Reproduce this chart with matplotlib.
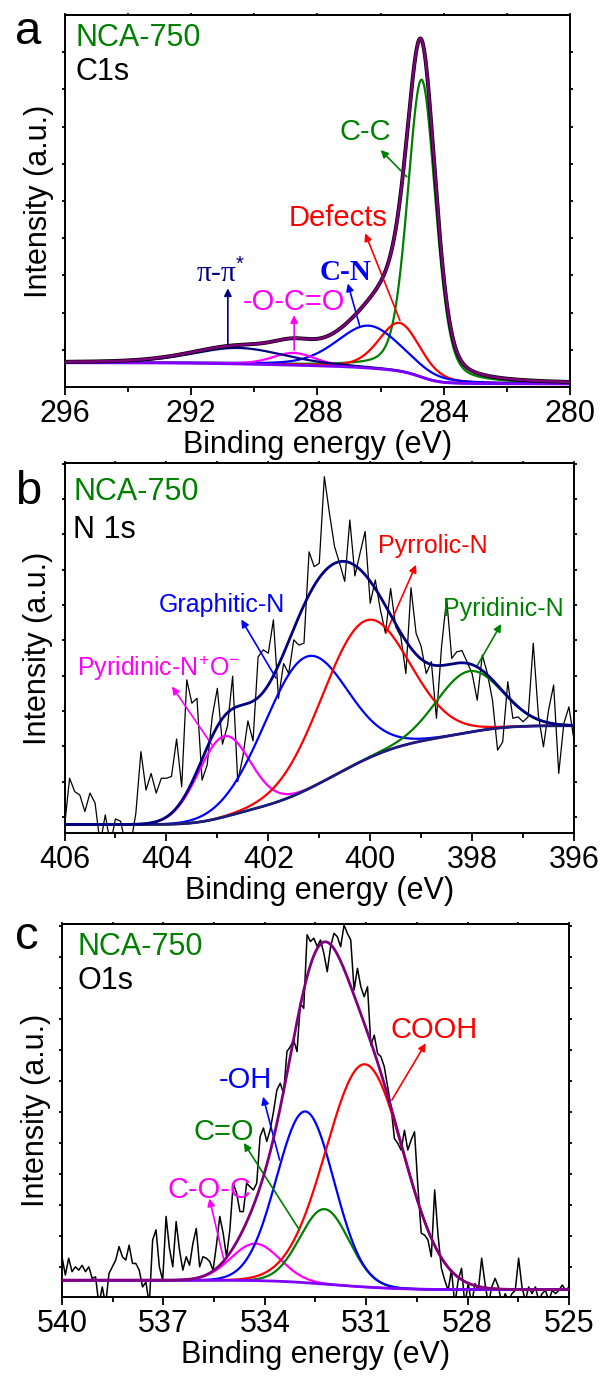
import numpy as np
import matplotlib
matplotlib.use('Agg')
import matplotlib.pyplot as plt
from matplotlib.ticker import MultipleLocator, FixedLocator, NullFormatter

plt.rcParams['font.family'] = ['Liberation Sans', 'DejaVu Sans']
plt.rcParams['mathtext.fontset'] = 'custom'
plt.rcParams['mathtext.rm'] = 'Liberation Sans'
plt.rcParams['mathtext.it'] = 'Liberation Sans:italic'
plt.rcParams['mathtext.bf'] = 'Liberation Sans:bold'

# ---- C1s fit: peak centre (eV), height, fwhm (eV) ----
c1s_names = ['C-C', 'Defects', 'C-N', '-O-C=O', 'π-π*']
c1s_centers = [284.7, 285.4, 286.37, 288.75, 290.5]
c1s_heights = [80.0, 13.0, 11.4, 3.3, 4.3]
c1s_fwhm = [1.05, 1.55, 2.4, 1.6, 3.5]
c1s_bg = [6.5, 0.8]          # background at high-BE end, low-BE end

# ---- N1s fit ----
n1s_names = ['Pyridinic-N$^{+}$O$^{-}$', 'Graphitic-N', 'Pyrrolic-N', 'Pyridinic-N']
n1s_centers = [402.87, 401.28, 400.11, 398.06]
n1s_heights = [21.8, 36.0, 37.5, 16.5]
n1s_fwhm = [1.2, 1.9, 2.0, 1.5]
n1s_bg = [2.3, 29.0]

# raw N1s counts, 406 -> 396 eV
n1s_raw = [1.7, 14.8, 11.2, 10.3, 5.8, 10.8, 8.1, -3, 4.9, -3,
           3.8, 3.2, -3, -3, 5.3, 22.0, 11.6, 16.1, 10.8, 14.8,
           14.8, 15.3, 25.4, 12.5, 41.4, 35.1, 36.4, 14.3, 18.4, 31.5,
           39.1, 24.0, 29.0, 42.4, 13.9, 20.6, 30.3, 24.9, 47.6, 49.5,
           48.6, 57.6, 36.4, 45.8, 43.1, 52.2, 50.8, 51.3, 76.0, 72.0,
           72.9, 96.3, 86.4, 77.4, 72.9, 68.0, 84.6, 69.5, 75.6, 81.5,
           62.1, 68.4, 60.3, 54.0, 66.1, 55.8, 53.1, 43.1, 66.3, 54.0,
           50.4, 43.1, 46.3, 31.0, 50.4, 63.4, 47.2, 49.0, 49.3, 46.3,
           43.1, 35.9, 48.1, 43.1, 35.9, 22.4, 24.6, 40.9, 31.0, 31.4,
           30.1, 31.4, 51.3, 31.9, 23.3, 33.2, 40.0, 16.1, 29.6, 34.1,
           25.1]

# ---- O1s fit ----
o1s_names = ['C-O-C', 'C=O', '-OH', 'COOH']
o1s_centers = [534.28, 532.23, 532.8, 531.04]
o1s_heights = [9.9, 20.1, 45.9, 59.7]
o1s_fwhm = [1.7, 1.7, 2.0, 2.7]
o1s_bg = [4.5, 2.0]

# raw O1s counts, 540 -> 525 eV
o1s_raw = [10.8, 5.9, 10.4, 6.8, 8.1, 7.2, 8.5, 6.8, 8.1, 5.0,
           5.4, -2, 2.7, -2, 6.3, 8.1, 9.9, 13.5, 10.8, 9.9,
           13.9, 9.0, 9.0, 7.2, 2.7, 4.0, -2, 15.3, 18.0, 8.1,
           4.5, 21.6, 13.1, 8.1, 20.2, 12.6, 7.2, 10.8, 8.5, 14.4,
           18.4, 8.1, 10.8, 10.4, 9.5, 7.2, 13.9, 21.6, 17.1, 10.8,
           18.0, 30.5, 27.9, 22.9, 22.9, 30.5, 29.6, 28.7, 30.5, 43.0,
           45.3, 41.7, 44.8, 49.7, 55.5, 57.3, 54.6, 65.8, 67.1, 68.9,
           65.8, 78.7, 77.4, 97.1, 95.3, 96.2, 94.0,
           95.7, 92.1, 87.2, 93.9, 97.5, 96.6, 93.9, 99.7, 97.5, 95.7,
           82.3, 88.1, 83.2, 80.5, 83.2, 67.5, 70.2, 65.3, 64.4, 61.7,
           56.4, 51.0, 42.5, 41.2, 39.4, 44.7, 39.4, 42.1, 44.3, 29.6,
           17.1, 16.6, 15.3, 10.8, 28.7, 16.6, 7.7, 4.5, 1.8, 7.2,
           -2, 4.5, 7.7, -2, 3.6, -2, 3.6, 1.8, 10.4, 3.6,
           -2, 2.7, 5.0, 2.7, -2, 0.9, -1, 0.9, 1.8, 10.4,
           2.7, -1, 2.7, 0.9, 2.7, -1, 0.9, 1.8, -1, 1.8,
           0.9, 1.8, 3.2, 1.8, 2.7]


def peak(x, c, h, w, eta):
    g = np.exp(-4 * np.log(2) * (x - c) ** 2 / w ** 2)
    l = 1.0 / (1 + 4 * (x - c) ** 2 / w ** 2)
    return h * ((1 - eta) * g + eta * l)


def shirley(total, b_hi, b_lo):
    # x runs from high to low binding energy
    area = np.cumsum(total)
    return b_hi + (b_lo - b_hi) * area / area[-1]


def style_axes(ax, xlim, major, minor, yticks):
    ax.set_xlim(*xlim)
    ax.set_ylim(0, 100)
    ax.xaxis.set_major_locator(MultipleLocator(major))
    ax.xaxis.set_minor_locator(MultipleLocator(minor))
    ax.yaxis.set_major_locator(FixedLocator(yticks))
    ax.yaxis.set_major_formatter(NullFormatter())
    ax.tick_params(axis='x', which='both', direction='out', bottom=True,
                   top=False, width=1.3, labelsize=22, pad=2.5)
    ax.tick_params(axis='x', which='major', length=6)
    ax.tick_params(axis='x', which='minor', length=3.5)
    ax.tick_params(axis='y', which='major', direction='out', left=True,
                   right=True, length=2.5, width=1.3)
    top = ax.secondary_xaxis('top')
    top.xaxis.set_major_locator(MultipleLocator(major))
    top.xaxis.set_minor_locator(MultipleLocator(minor))
    top.tick_params(which='both', direction='out', length=1.8, width=1.2,
                    labeltop=False)
    top.spines['top'].set_linewidth(1.4)
    for s in ax.spines.values():
        s.set_linewidth(1.4)
    ax.set_xlabel('Binding energy (eV)', fontsize=22, labelpad=1)
    ax.set_ylabel('Intensity (a.u.)', fontsize=22, labelpad=2)


def draw_fit(ax, xlim, centers, heights, fwhm, bg_ends, colors, eta, bg_color):
    x = np.linspace(xlim[0], xlim[1], 1500)
    comps = [peak(x, c, h, w, eta) for c, h, w in zip(centers, heights, fwhm)]
    total = np.sum(comps, axis=0)
    bg = shirley(total, bg_ends[0], bg_ends[1])
    for comp, col in zip(comps, colors):
        ax.plot(x, bg + comp, color=col, lw=1.6)
    ax.plot(x, bg, color=bg_color, lw=2.0)
    return x, bg + total


def label(ax, text, color, text_xy, tail, head, size=21, **kw):
    ax.annotate('', xy=head, xytext=tail,
                arrowprops=dict(arrowstyle='-|>', color=color, lw=1.2,
                                mutation_scale=11, shrinkA=0, shrinkB=0))
    ax.text(text_xy[0], text_xy[1], text, color=color, fontsize=size,
            ha='center', va='center', **kw)


fig = plt.figure(figsize=(6, 13.76), dpi=100)

# ---------------- (a) C1s ----------------
ax = fig.add_axes([0.1083, 0.7188, 0.8417, 0.2703])
c1s_colors = ['#008000', '#ff0000', '#0000ff', '#ff00ff', '#000080']
x, env = draw_fit(ax, (296, 280), c1s_centers, c1s_heights, c1s_fwhm, c1s_bg,
                  c1s_colors, 0.3, '#8000ff')
ax.plot(x, env, color='black', lw=2.8, zorder=3)
ax.plot(x, env, color='#800080', lw=1.8, zorder=4)
style_axes(ax, (296, 280), 4, 2, np.arange(10, 100, 10))
label(ax, c1s_names[0], '#008000', (286.49, 68.6), (285.17, 56.5), (286.0, 63.7))
label(ax, c1s_names[1], '#ff0000', (287.34, 45.3), (285.39, 17.9), (286.49, 41.3))
label(ax, c1s_names[2], '#0000ff', (287.1, 30.9), (286.67, 16.6), (287.04, 27.8),
      family='Liberation Serif', fontweight='bold')
label(ax, c1s_names[3], '#ff00ff', (288.74, 22.9), (288.74, 9.9), (288.74, 19.3))
label(ax, 'π-π$^{*}$', '#000080', (291.06, 30.5), (290.84, 10.8), (290.84, 26.5),
      family='Liberation Serif')
ax.text(0.02, 0.938, 'NCA-750', color='#008000', fontsize=22,
        transform=ax.transAxes, va='center')
ax.text(0.02, 0.847, 'C1s', color='black', fontsize=22,
        transform=ax.transAxes, va='center')
fig.text(0.047, 0.977, 'a', fontsize=34, ha='center', va='center')

# ---------------- (b) N1s ----------------
ax = fig.add_axes([0.1075, 0.3946, 0.8492, 0.2689])
n1s_colors = ['#ff00ff', '#0000ff', '#ff0000', '#008000']
ax.plot(np.linspace(406, 396, len(n1s_raw)), n1s_raw, color='black', lw=0.9)
x, env = draw_fit(ax, (406, 396), n1s_centers, n1s_heights, n1s_fwhm, n1s_bg,
                  n1s_colors, 0.0, '#1c1c7c')
ax.plot(x, env, color='#000080', lw=2.0, zorder=4)
style_axes(ax, (406, 396), 2, 1, np.arange(4.3, 100, 9.55))
label(ax, n1s_names[0], '#ff00ff', (404.16, 44.6), (403.11, 23.9), (403.89, 39.6), size=18)
label(ax, n1s_names[1], '#0000ff', (402.91, 61.7), (401.85, 41.9), (402.53, 57.7), size=18)
label(ax, n1s_names[2], '#ff0000', (398.78, 77.7), (399.69, 54.1), (399.10, 72.5), size=18)
label(ax, n1s_names[3], '#008000', (397.38, 60.5), (397.91, 45.0), (397.43, 56.5), size=18)
ax.text(0.017, 0.922, 'NCA-750', color='#008000', fontsize=22,
        transform=ax.transAxes, va='center')
ax.text(0.017, 0.819, 'N 1s', color='black', fontsize=22,
        transform=ax.transAxes, va='center')
fig.text(0.047, 0.6424, 'b', fontsize=34, ha='center', va='center')

# ---------------- (c) O1s ----------------
ax = fig.add_axes([0.1033, 0.0574, 0.845, 0.2711])
o1s_colors = ['#ff00ff', '#008000', '#0000ff', '#ff0000']
ax.plot(np.linspace(540, 525, len(o1s_raw)), o1s_raw, color='black', lw=1.1)
x, env = draw_fit(ax, (540, 525), o1s_centers, o1s_heights, o1s_fwhm, o1s_bg,
                  o1s_colors, 0.0, '#8000ff')
ax.plot(x, env, color='#800080', lw=2.0, zorder=4)
style_axes(ax, (540, 525), 3, 1.5, np.arange(8.1, 100, 8.3))
label(ax, o1s_names[3], '#ff0000', (528.99, 71.6), (530.24, 52.8), (529.24, 68.0))
label(ax, o1s_names[2], '#0000ff', (534.56, 58.1), (533.56, 36.7), (534.05, 53.7))
label(ax, o1s_names[1], '#008000', (535.21, 44.3), (532.97, 17.9), (534.62, 41.3))
label(ax, o1s_names[0], '#ff00ff', (535.64, 28.6), (535.22, 10.3), (535.64, 26.4))
ax.text(0.03, 0.938, 'NCA-750', color='#008000', fontsize=22,
        transform=ax.transAxes, va='center')
ax.text(0.03, 0.848, 'O1s', color='black', fontsize=22,
        transform=ax.transAxes, va='center')
fig.text(0.045, 0.319, 'c', fontsize=34, ha='center', va='center')

fig.savefig('out.png', dpi=100)
